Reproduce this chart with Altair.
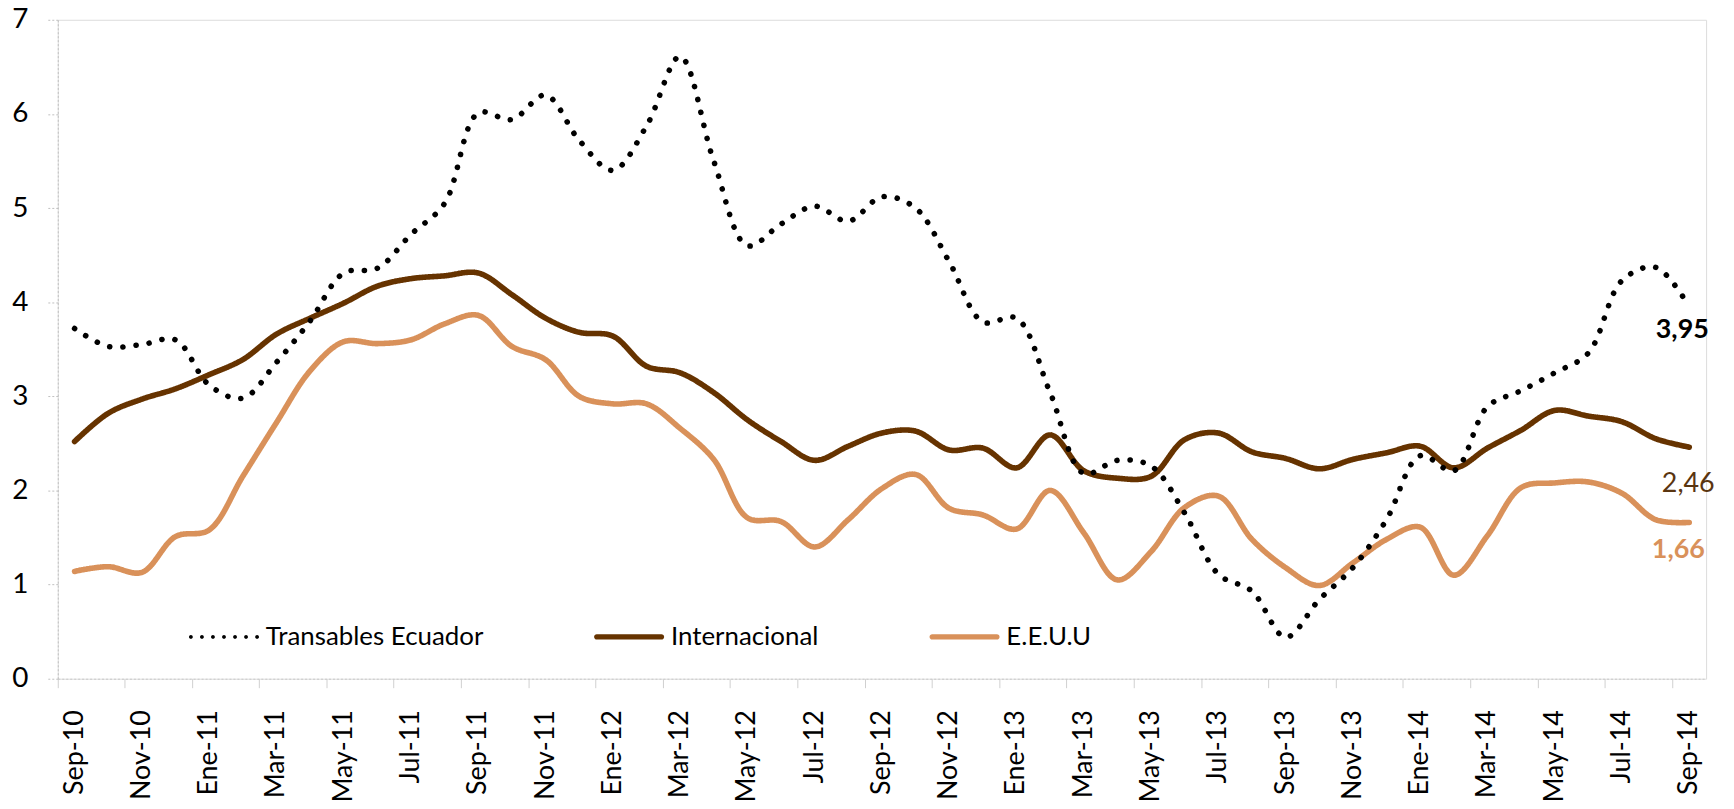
import altair as alt
import pandas as pd

meses = ["Sep-10", "Oct-10", "Nov-10", "Dic-10", "Ene-11", "Feb-11", "Mar-11", "Abr-11",
         "May-11", "Jun-11", "Jul-11", "Ago-11", "Sep-11", "Oct-11", "Nov-11", "Dic-11",
         "Ene-12", "Feb-12", "Mar-12", "Abr-12", "May-12", "Jun-12", "Jul-12", "Ago-12",
         "Sep-12", "Oct-12", "Nov-12", "Dic-12", "Ene-13", "Feb-13", "Mar-13", "Abr-13",
         "May-13", "Jun-13", "Jul-13", "Ago-13", "Sep-13", "Oct-13", "Nov-13", "Dic-13",
         "Ene-14", "Feb-14", "Mar-14", "Abr-14", "May-14", "Jun-14", "Jul-14", "Ago-14",
         "Sep-14"]

transables = [3.72, 3.53, 3.55, 3.60, 3.12, 2.98, 3.36, 3.80, 4.31, 4.36, 4.72, 5.05,
              6.01, 5.94, 6.20, 5.72, 5.40, 5.87, 6.61, 5.50, 4.60, 4.83, 5.02, 4.86,
              5.12, 5.00, 4.43, 3.79, 3.83, 3.04, 2.18, 2.32, 2.26, 1.76, 1.11, 0.93,
              0.44, 0.84, 1.18, 1.69, 2.37, 2.21, 2.89, 3.06, 3.25, 3.46, 4.23, 4.37,
              3.95]

internacional = [2.52, 2.82, 2.97, 3.08, 3.23, 3.39, 3.66, 3.83, 3.99, 4.17, 4.25, 4.28,
                 4.31, 4.08, 3.83, 3.68, 3.64, 3.32, 3.25, 3.04, 2.75, 2.52, 2.32, 2.47,
                 2.61, 2.63, 2.43, 2.45, 2.24, 2.59, 2.21, 2.13, 2.15, 2.54, 2.61, 2.41,
                 2.34, 2.23, 2.33, 2.40, 2.47, 2.24, 2.45, 2.64, 2.85, 2.79, 2.73, 2.55,
                 2.46]

eeuu = [1.14, 1.19, 1.13, 1.51, 1.58, 2.15, 2.72, 3.27, 3.58, 3.56, 3.60, 3.77,
        3.86, 3.53, 3.39, 3.00, 2.92, 2.92, 2.66, 2.33, 1.71, 1.67, 1.40, 1.69,
        2.02, 2.17, 1.81, 1.74, 1.59, 2.00, 1.55, 1.05, 1.35, 1.82, 1.94, 1.48,
        1.18, 0.99, 1.23, 1.48, 1.61, 1.10, 1.52, 2.03, 2.08, 2.09, 1.97, 1.69,
        1.66]

series = ["Transables Ecuador", "Internacional", "E.E.U.U"]
colores = ["#000000", "#663300", "#D9915A"]

rows = []
for nombre, vals in [("E.E.U.U", eeuu), ("Internacional", internacional),
                     ("Transables Ecuador", transables)]:
    for i, v in enumerate(vals):
        rows.append({"i": i, "mes": meses[i], "serie": nombre, "valor": v,
                     "etiqueta": f"{v:.2f}".replace(".", ",")})
df = pd.DataFrame(rows)

n = len(meses)
last = n - 1
FONT = "Lato"


# legend symbol shapes (unit box -1..1, scaled by sqrt(size)/2)
def dots_path(count=7, r=0.055, span=0.95):
    parts = []
    for k in range(count):
        c = -span + k * (2 * span / (count - 1))
        parts.append(f"M{c - r:.3f},0A{r},{r} 0 1 0 {c + r:.3f},0"
                     f"A{r},{r} 0 1 0 {c - r:.3f},0Z")
    return "".join(parts)


h = 0.075
line_path = (f"M-0.93,{-h}L0.93,{-h}A{h},{h} 0 0 1 0.93,{h}"
             f"L-0.93,{h}A{h},{h} 0 0 1 -0.93,{-h}Z")
formas = [dots_path(), line_path, line_path]

x_enc = alt.X("mes:O", sort=meses,
              scale=alt.Scale(type="band", domain=meses, paddingInner=0,
                              paddingOuter=0),
              axis=alt.Axis(values=meses[::2], title=None, bandPosition=0,
                            labelAngle=270, labelFont=FONT, labelFontSize=27,
                            labelColor="#000000", labelOverlap=False,
                            labelPadding=22, tickSize=9, tickColor="#D0D0D0",
                            tickWidth=1, domainColor="#C8C8C8", domainWidth=1,
                            domainDash=[2, 2], grid=False))
y_enc = alt.Y("valor:Q",
              scale=alt.Scale(domain=[0, 7], nice=False),
              axis=alt.Axis(values=list(range(0, 8)), format="d", title=None,
                            labelFont=FONT, labelFontSize=28, labelColor="#000000",
                            labelPadding=20, tickSize=10, tickColor="#C0C0C0",
                            tickDash=[2, 2], domainColor="#C0C0C0", domainDash=[2, 2],
                            grid=False))

color_scale = alt.Scale(domain=series, range=colores)

leg = alt.Legend(title=None, orient="none", legendX=132, legendY=585,
                 direction="horizontal", symbolSize=4900, symbolStrokeWidth=0,
                 labelFont=FONT, labelFontSize=26, labelColor="#000000",
                 columnPadding=110, labelOffset=7, padding=0, labelLimit=500)

# legend carrier: its points lie outside the y domain and are clipped away
leyenda = alt.Chart(df).transform_filter(f"datum.i == {last}").transform_calculate(
    fuera="-10").mark_point(filled=True, opacity=1, size=4900, clip=True).encode(
    x=x_enc,
    y=alt.Y("fuera:Q"),
    color=alt.Color("serie:N", scale=color_scale, legend=leg),
    shape=alt.Shape("serie:N", scale=alt.Scale(domain=series, range=formas),
                    legend=leg),
)

lines = alt.Chart(df).mark_line(
    interpolate="catmull-rom", strokeWidth=5.6, strokeCap="round",
    strokeJoin="round").encode(
    x=x_enc, y=y_enc,
    color=alt.Color("serie:N", scale=color_scale, legend=None),
    strokeDash=alt.StrokeDash("serie:N",
                              scale=alt.Scale(domain=series,
                                              range=[[0.1, 13.2], [1, 0], [1, 0]]),
                              legend=None),
)

estilos = {
    "Transables Ecuador": dict(color="#000000", fontWeight="bold", dx=-7, dy=23),
    "Internacional": dict(color="#5A3510", fontWeight="normal", dx=-1, dy=37),
    "E.E.U.U": dict(color="#D9915A", fontWeight="bold", dx=-11, dy=28),
}
textos = []
for nombre in series:
    st = estilos[nombre]
    textos.append(
        alt.Chart(df).transform_filter(
            f"datum.serie == '{nombre}' && datum.i == {last}"
        ).mark_text(font=FONT, fontSize=27, align="center", baseline="middle",
                    **st).encode(x=x_enc, y=y_enc, text="etiqueta:N"))

chart = alt.layer(leyenda, lines, *textos).properties(
    width=1656, height=662,
    padding={"left": 50, "top": 10, "right": 20, "bottom": 121},
    autosize=alt.AutoSizeParams(type="none"),
).configure_view(stroke=None).configure(background="#FFFFFF")

chart.save("out.html", embed_options={"renderer": "svg", "actions": False})
